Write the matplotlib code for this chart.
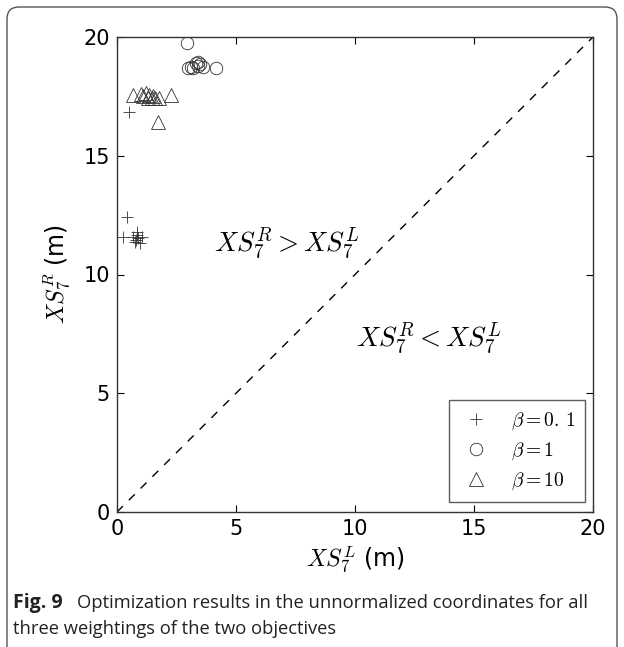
import matplotlib
matplotlib.use("Agg")
import matplotlib.pyplot as plt
from matplotlib.patches import FancyBboxPatch
from matplotlib.transforms import IdentityTransform

plt.rcParams['mathtext.fontset'] = 'cm'
plt.rcParams['font.family'] = ['DejaVu Sans']

# beta = 0.1 (plus)
b01_x = [0.52, 0.43, 0.27, 0.69, 0.83, 0.89, 0.76, 0.97, 0.85, 1.04, 0.80]
b01_y = [16.85, 12.43, 11.60, 11.60, 11.66, 11.52, 11.38, 11.31, 11.80, 11.60, 11.45]
# beta = 1 (circle)
b1_x = [2.94, 3.00, 3.10, 3.30, 3.40, 3.50, 3.60, 3.20, 3.40, 4.16]
b1_y = [19.75, 18.70, 18.75, 18.90, 18.80, 18.85, 18.75, 18.70, 18.95, 18.68]
# beta = 10 (triangle)
b10_x = [0.66, 1.00, 1.10, 1.20, 1.30, 1.35, 1.45, 1.50, 1.60, 1.75, 2.27, 1.71]
b10_y = [17.55, 17.60, 17.50, 17.65, 17.45, 17.55, 17.45, 17.50, 17.45, 17.45, 17.55, 16.43]

labels = [r"$\beta = 0.\,1$", r"$\beta = 1$", r"$\beta = 10$"]
xticks = [0, 5, 10, 15, 20]
yticks = [0, 5, 10, 15, 20]

W, H = 624, 647
fig = plt.figure(figsize=(W / 100, H / 100), dpi=100)
ax = fig.add_axes([117 / W, 1 - 512 / H, (593 - 117) / W, (512 - 37) / H])

ec = '#333333'
ms = 9
ax.plot(b01_x, b01_y, linestyle='none', marker='+', ms=ms, mec=ec, mew=0.6, label=labels[0])
ax.plot(b1_x, b1_y, linestyle='none', marker='o', ms=ms, mec=ec, mfc='none', mew=0.6, label=labels[1])
ax.plot(b10_x, b10_y, linestyle='none', marker='^', ms=ms + 1, mec=ec, mfc='none', mew=0.6, label=labels[2])
ax.plot([0, 20], [0, 20], linestyle='--', color='black', lw=1.0, dashes=(6, 6))

ax.set_xlim(0, 20)
ax.set_ylim(0, 20)
ax.set_xticks(xticks)
ax.set_yticks(yticks)
ax.tick_params(direction='in', top=True, right=True, labelsize=15, length=5, width=0.8, pad=5)
for s in ax.spines.values():
    s.set_linewidth(1.0)
    s.set_color('#333333')

ax.set_xlabel(r"$XS_7^L$ (m)", fontsize=17, labelpad=4)
ax.set_ylabel(r"$XS_7^R$ (m)", fontsize=17, labelpad=8)

ax.text(7.12, 11.3, r"$XS_7^R > XS_7^L$", fontsize=19.5, ha='center', va='center')
ax.text(13.1, 7.3, r"$XS_7^R < XS_7^L$", fontsize=19.5, ha='center', va='center')

leg = ax.legend(loc='lower right', bbox_to_anchor=(585 / W, 1 - 502 / H),
                bbox_transform=fig.transFigure, borderaxespad=0, numpoints=1,
                fontsize=14, handletextpad=0.9, handlelength=1.8, labelspacing=0.45,
                fancybox=False, borderpad=0.5)
leg.get_frame().set_edgecolor('#333333')
leg.get_frame().set_linewidth(1.0)

# outer rounded frame
frame = FancyBboxPatch((7, -30), 610, H - 7 + 30, boxstyle="round,pad=0,rounding_size=12",
                       transform=IdentityTransform(), fill=False, edgecolor='#555555', lw=1.0)
fig.patches.append(frame)

fig.text(13 / W, 1 - 603 / H, "Fig. 9", fontsize=14, fontweight='bold', family='Open Sans',
         va='center', ha='left', color='#222222')
fig.text(77 / W, 1 - 603 / H, "Optimization results in the unnormalized coordinates for all",
         fontsize=13.2, family='Open Sans', va='center', ha='left', color='#222222')
fig.text(13 / W, 1 - 629 / H, "three weightings of the two objectives",
         fontsize=13.2, family='Open Sans', va='center', ha='left', color='#222222')

fig.savefig("out.png", dpi=100)
